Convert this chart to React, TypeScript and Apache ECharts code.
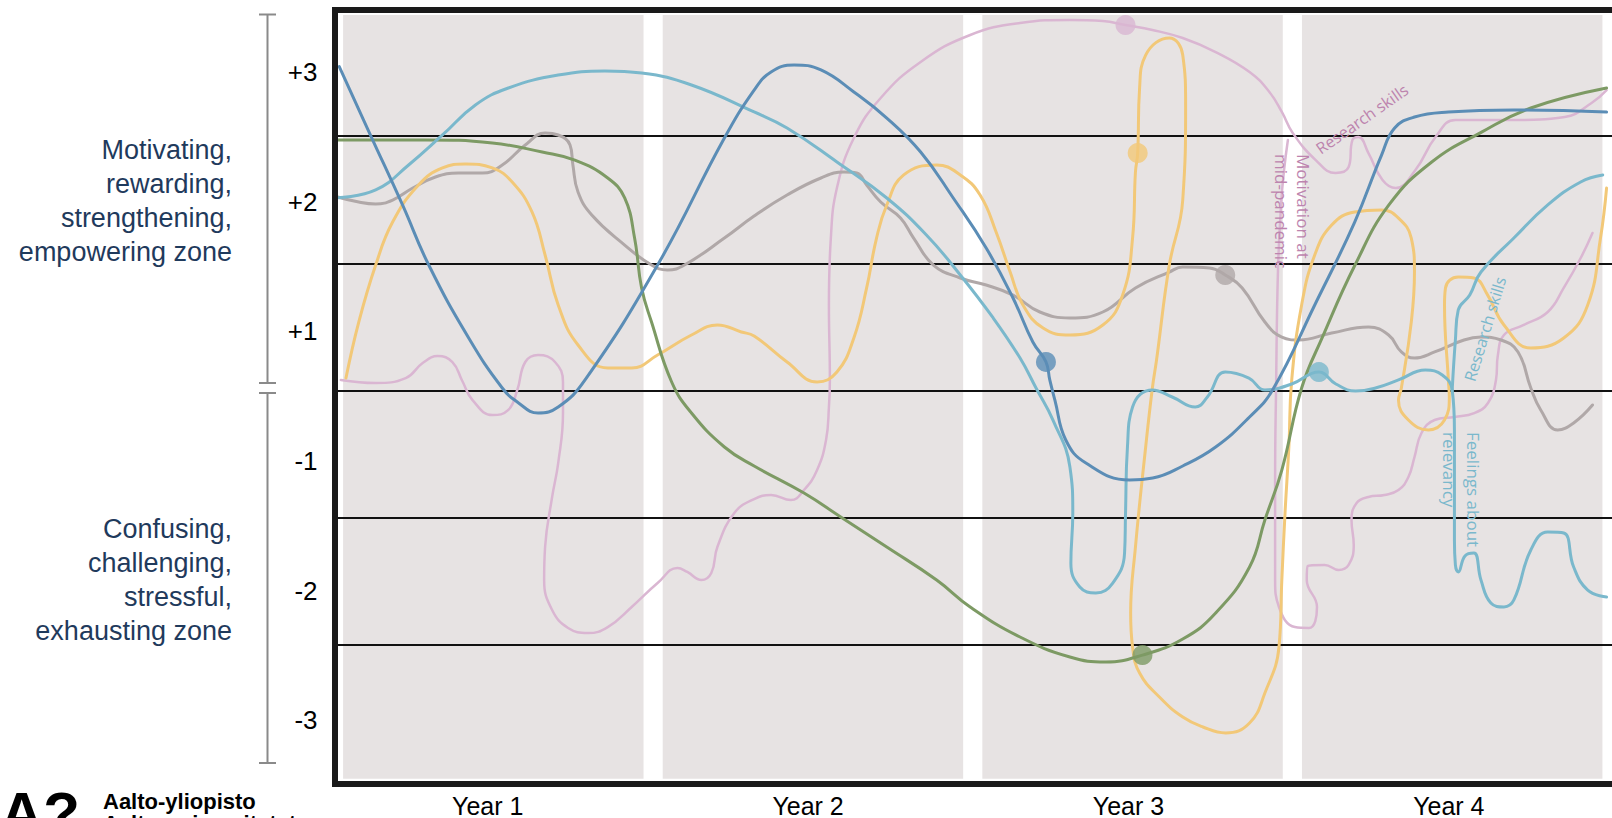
import React, { useEffect, useRef } from "react";
import * as echarts from "echarts";

// ---------- data (x: years since start, y: zone level; 0 = middle line) ----------
const yearLabels = ["Year 1", "Year 2", "Year 3", "Year 4"];
const levelLabels = ["-3", "-2", "-1", "+1", "+2", "+3"];
const zoneBoundaries = [2, 1, 0, -1, -2];
const yearPanels = [[0.03, 0.97], [1.03, 1.97], [2.03, 2.97], [3.03, 3.97]];

const blueLine = [
  [0.018, 2.545], [0.117, 2.0], [0.216, 1.458], [0.298, 0.986], [0.423, 0.413], [0.528, 0.02],
  [0.579, -0.098], [0.64, -0.177], [0.703, -0.13], [0.787, 0.083], [1.014, 0.986], [1.223, 1.984],
  [1.316, 2.361], [1.369, 2.503], [1.441, 2.558], [1.525, 2.519], [1.628, 2.346], [1.731, 2.141],
  [1.837, 1.874], [1.939, 1.513], [2.042, 1.12], [2.126, 0.727], [2.188, 0.381], [2.229, 0.225],
  [2.241, 0.083], [2.257, -0.075], [2.291, -0.389], [2.354, -0.57], [2.491, -0.703], [2.563, -0.688],
  [2.657, -0.593], [2.76, -0.444], [2.866, -0.208], [2.938, 0.004], [3.07, 0.672], [3.195, 1.324],
  [3.279, 1.85], [3.32, 2.063], [3.382, 2.149], [3.488, 2.188], [3.693, 2.204], [3.983, 2.188],
];

const tealLine = [
  [0.013, 1.515], [0.132, 1.576], [0.235, 1.772], [0.341, 2.008], [0.444, 2.244], [0.547, 2.377],
  [0.703, 2.479], [0.849, 2.511], [0.964, 2.495], [1.12, 2.401], [1.316, 2.189], [1.419, 2.063],
  [1.575, 1.796], [1.731, 1.513], [1.855, 1.222], [1.961, 0.908], [2.064, 0.57], [2.148, 0.255],
  [2.198, 0.02], [2.251, -0.232], [2.304, -0.601], [2.313, -0.963], [2.307, -1.356], [2.335, -1.544],
  [2.385, -1.591], [2.438, -1.513], [2.475, -1.277], [2.478, -0.963], [2.484, -0.444], [2.5, -0.13],
  [2.562, 0.004], [2.624, -0.051], [2.696, -0.13], [2.734, -0.051], [2.79, 0.145], [2.864, 0.098],
  [2.914, 0.004], [2.998, 0.051], [3.083, 0.145], [3.136, 0.051], [3.198, -0.004], [3.26, 0.02],
  [3.332, 0.083], [3.416, 0.161], [3.469, 0.122], [3.5, 0.004], [3.507, -0.31], [3.507, -0.703],
  [3.507, -1.175], [3.51, -1.371], [3.519, -1.426], [3.54, -1.3], [3.568, -1.277], [3.59, -1.489],
  [3.621, -1.67], [3.662, -1.701], [3.693, -1.646], [3.746, -1.253], [3.799, -1.112], [3.849, -1.12],
  [3.88, -1.387], [3.924, -1.568], [3.983, -1.623],
];

const tealResearchBranch = [
  [3.5, 0.004], [3.51, 0.397], [3.519, 0.633], [3.555, 0.75], [3.59, 0.931], [3.693, 1.198],
  [3.799, 1.458], [3.902, 1.639], [3.971, 1.694],
];

const greenLine = [
  [0.013, 1.969], [0.288, 1.969], [0.497, 1.945], [0.653, 1.874], [0.755, 1.81], [0.858, 1.67],
  [0.911, 1.513], [0.942, 1.198], [0.964, 0.806], [0.995, 0.538], [1.058, 0.067], [1.12, -0.177],
  [1.223, -0.444], [1.316, -0.593], [1.472, -0.806], [1.587, -0.994], [1.731, -1.23], [1.887, -1.489],
  [1.992, -1.701], [2.148, -1.937], [2.304, -2.094], [2.416, -2.133], [2.531, -2.079], [2.657, -1.953],
  [2.76, -1.749], [2.866, -1.387], [2.914, -1.017], [2.967, -0.625], [3.029, 0.02], [3.093, 0.413],
  [3.196, 0.986], [3.302, 1.458], [3.436, 1.796], [3.592, 2.031], [3.746, 2.22], [3.983, 2.377],
];

const yellowLine = [
  [0.039, 0.098], [0.079, 0.538], [0.132, 0.986], [0.185, 1.324], [0.266, 1.615], [0.341, 1.749],
  [0.413, 1.78], [0.497, 1.749], [0.559, 1.638], [0.621, 1.403], [0.662, 1.065], [0.703, 0.672],
  [0.765, 0.358], [0.858, 0.177], [0.933, 0.177], [1.014, 0.279], [1.12, 0.436], [1.201, 0.515],
  [1.276, 0.46], [1.316, 0.428], [1.419, 0.224], [1.513, 0.067], [1.575, 0.145], [1.628, 0.413],
  [1.668, 0.806], [1.699, 1.198], [1.731, 1.458], [1.784, 1.694], [1.887, 1.772], [1.961, 1.694],
  [2.023, 1.536], [2.073, 1.246], [2.117, 0.931], [2.157, 0.672], [2.22, 0.491], [2.304, 0.436],
  [2.407, 0.515], [2.469, 0.75], [2.5, 1.198], [2.509, 1.717], [2.516, 1.866], [2.522, 2.377],
  [2.541, 2.636], [2.615, 2.77], [2.657, 2.636], [2.666, 2.243], [2.657, 1.497], [2.615, 0.986],
  [2.575, 0.24], [2.562, 0.02], [2.541, -0.444], [2.509, -1.23], [2.494, -1.749], [2.5, -2.016],
  [2.522, -2.22], [2.584, -2.409], [2.657, -2.566], [2.72, -2.644], [2.791, -2.691], [2.866, -2.613],
  [2.914, -2.377], [2.958, -2.016], [2.967, -1.489], [2.977, -0.963], [2.989, -0.444], [2.998, 0.083],
  [3.029, 0.672], [3.07, 1.065], [3.123, 1.3], [3.195, 1.403], [3.279, 1.419], [3.332, 1.355],
  [3.372, 1.198], [3.382, 0.931], [3.372, 0.538], [3.341, 0.02], [3.332, -0.075], [3.363, -0.232],
  [3.426, -0.31], [3.476, -0.232], [3.491, -0.051], [3.488, 0.083], [3.476, 0.672], [3.479, 0.806],
  [3.519, 0.892], [3.568, 0.884], [3.611, 0.75], [3.662, 0.515], [3.746, 0.334], [3.849, 0.413],
  [3.924, 0.672], [3.964, 1.198], [3.983, 1.591],
];

const greyLine = [
  [0.013, 1.521], [0.079, 1.481], [0.132, 1.466], [0.185, 1.497], [0.248, 1.591], [0.319, 1.678],
  [0.391, 1.709], [0.466, 1.709], [0.528, 1.772], [0.6, 1.929], [0.662, 2.024], [0.703, 2.008],
  [0.74, 1.929], [0.749, 1.772], [0.765, 1.56], [0.808, 1.379], [0.911, 1.143], [0.995, 0.986],
  [1.045, 0.947], [1.098, 0.986], [1.223, 1.198], [1.316, 1.371], [1.419, 1.536], [1.525, 1.67],
  [1.597, 1.717], [1.637, 1.709], [1.668, 1.615], [1.712, 1.481], [1.774, 1.356], [1.815, 1.198],
  [1.877, 0.986], [1.961, 0.884], [2.042, 0.829], [2.126, 0.75], [2.21, 0.617], [2.304, 0.57],
  [2.407, 0.617], [2.509, 0.806], [2.615, 0.931], [2.657, 0.971], [2.741, 0.963], [2.79, 0.908],
  [2.843, 0.806], [2.914, 0.538], [2.967, 0.42], [3.02, 0.397], [3.123, 0.452], [3.238, 0.499],
  [3.301, 0.436], [3.341, 0.303], [3.382, 0.255], [3.445, 0.303], [3.537, 0.397], [3.59, 0.42],
  [3.653, 0.397], [3.706, 0.303], [3.746, 0.02], [3.777, -0.153], [3.83, -0.31], [3.88, -0.255],
  [3.939, -0.114],
];

const pinkLine = [
  [0.023, 0.083], [0.132, 0.059], [0.226, 0.098], [0.279, 0.216], [0.326, 0.271], [0.372, 0.224],
  [0.403, 0.075], [0.435, -0.075], [0.497, -0.193], [0.547, -0.153], [0.575, 0.004], [0.6, 0.224],
  [0.64, 0.279], [0.693, 0.224], [0.718, 0.067], [0.718, -0.177], [0.703, -0.57], [0.684, -0.837],
  [0.662, -1.23], [0.659, -1.489], [0.684, -1.725], [0.734, -1.866], [0.796, -1.906], [0.858, -1.859],
  [0.933, -1.701], [1.014, -1.513], [1.076, -1.395], [1.107, -1.426], [1.151, -1.489], [1.182, -1.434],
  [1.201, -1.23], [1.254, -0.963], [1.316, -0.853], [1.369, -0.821], [1.431, -0.861], [1.472, -0.782],
  [1.513, -0.625], [1.541, -0.389], [1.55, -0.13], [1.553, 0.083], [1.55, 0.672], [1.556, 1.198],
  [1.575, 1.591], [1.628, 1.984], [1.712, 2.299], [1.837, 2.582], [1.992, 2.794], [2.148, 2.888],
  [2.304, 2.912], [2.407, 2.904], [2.478, 2.872], [2.562, 2.833], [2.657, 2.77], [2.76, 2.66],
  [2.866, 2.503], [2.928, 2.346], [2.967, 2.189], [3.001, 2.024], [3.073, 1.811], [3.135, 1.709],
  [3.176, 1.756], [3.188, 1.969], [3.207, 1.992], [3.238, 1.866], [3.282, 1.654], [3.323, 1.591],
  [3.385, 1.733], [3.448, 1.992], [3.51, 2.126], [3.697, 2.126], [3.852, 2.149], [3.936, 2.259],
  [3.983, 2.361],
];

const pinkPandemicBranch = [
  [2.986, 1.969], [2.974, 1.733], [2.965, 1.474], [2.955, 0.947], [2.949, 0.02], [2.946, -0.703],
  [2.946, -1.489], [2.958, -1.701], [3.008, -1.859], [3.052, -1.866], [3.077, -1.701], [3.045, -1.489],
  [3.048, -1.379], [3.101, -1.371], [3.145, -1.411], [3.176, -1.371], [3.192, -1.214], [3.185, -1.017],
  [3.201, -0.884], [3.238, -0.837], [3.288, -0.821], [3.332, -0.782], [3.363, -0.68], [3.382, -0.523],
  [3.404, -0.334], [3.445, -0.232], [3.507, -0.208], [3.569, -0.177], [3.612, -0.098], [3.637, 0.083],
  [3.643, 0.279], [3.662, 0.436], [3.724, 0.515], [3.799, 0.617], [3.849, 0.806], [3.902, 1.041],
  [3.939, 1.238],
];

// highlighted moment on each line
const blueDot = [2.229, 0.225];
const tealDot = [3.083, 0.145];
const greenDot = [2.531, -2.079];
const yellowDot = [2.516, 1.866];
const greyDot = [2.79, 0.908];
const pinkDot = [2.478, 2.872];

const C = {
  blue: "#5b8db6",
  teal: "#7ab8cc",
  green: "#7d9a64",
  yellow: "#f2c878",
  grey: "#b0a8a8",
  pink: "#dab6d2",
  pinkText: "#bd84ae",
  navy: "#1f3a5c",
  panel: "#e7e3e3",
};

const ARIAL = "'Liberation Sans', Arial, sans-serif";
const NOTE = "'Open Sans', 'Noto Sans', sans-serif";

function lineSeries(name: string, data: number[][], color: string, width = 3) {
  return {
    name,
    type: "line",
    xAxisIndex: 0,
    yAxisIndex: 0,
    data,
    smooth: 0.45,
    symbol: "none",
    z: 2,
    silent: true,
    lineStyle: { color, width, cap: "round", join: "round" },
  };
}

export default function App() {
  const ref = useRef<HTMLDivElement>(null);

  useEffect(() => {
    if (!ref.current) return;
    const chart = echarts.init(ref.current, undefined, { renderer: "svg" });

    const bracket = "#8a8a8a";
    const option: any = {
      animation: false,
      backgroundColor: "#ffffff",
      grid: [
        { left: 333.5, top: 8.75, width: 1284, height: 776.25 },
        { left: 327.5, top: 7.1, width: 1284, height: 779 },
      ],
      xAxis: [
        { gridIndex: 0, type: "value", min: 0, max: 4, show: false },
        {
          gridIndex: 1,
          type: "value",
          min: 0,
          max: 4,
          interval: 0.5,
          axisLine: { show: false },
          axisTick: { show: false },
          splitLine: { show: false },
          axisLabel: {
            margin: 8,
            fontSize: 25,
            color: "#000",
            fontFamily: ARIAL,
            formatter: (v: number) => {
              const k = Math.round(v * 2);
              return k % 2 === 1 ? yearLabels[(k - 1) / 2] : "";
            },
          },
        },
      ],
      yAxis: [
        { gridIndex: 0, type: "value", min: -3.1, max: 3, show: false },
        {
          gridIndex: 1,
          type: "value",
          min: -0.5,
          max: 5.5,
          interval: 0.5,
          axisLine: { show: false },
          axisTick: { show: false },
          splitLine: { show: false },
          axisLabel: {
            margin: 10,
            fontSize: 26,
            color: "#000",
            fontFamily: ARIAL,
            formatter: (v: number) => {
              const k = Math.round(v * 2);
              return k % 2 === 0 ? levelLabels[k / 2] ?? "" : "";
            },
          },
        },
      ],
      series: [
        {
          name: "frame",
          type: "line",
          xAxisIndex: 0,
          yAxisIndex: 0,
          data: [[0, 0]],
          symbol: "none",
          silent: true,
          lineStyle: { width: 0, opacity: 0 },
          markArea: {
            silent: true,
            z: 0,
            itemStyle: { color: C.panel },
            data: yearPanels.map(([a, b]) => [
              { xAxis: a, yAxis: -3.05 },
              { xAxis: b, yAxis: 2.95 },
            ]),
          },
          markLine: {
            silent: true,
            z: 1,
            symbol: ["none", "none"],
            label: { show: false },
            lineStyle: { color: "#111", width: 2, type: "solid" },
            data: zoneBoundaries.map((v) => ({ yAxis: v })),
          },
        },
        lineSeries("Motivation at mid-pandemic", pinkPandemicBranch, C.pink, 2.5),
        lineSeries("Research skills (pink)", pinkLine, C.pink, 2.5),
        lineSeries("Grey", greyLine, C.grey),
        lineSeries("Yellow", yellowLine, C.yellow),
        lineSeries("Green", greenLine, C.green),
        lineSeries("Research skills (teal)", tealResearchBranch, C.teal),
        lineSeries("Feelings about relevancy", tealLine, C.teal),
        lineSeries("Blue", blueLine, C.blue),
        {
          name: "moments",
          type: "scatter",
          xAxisIndex: 0,
          yAxisIndex: 0,
          symbolSize: 20,
          z: 3,
          silent: true,
          data: [
            { value: blueDot, itemStyle: { color: C.blue } },
            { value: tealDot, itemStyle: { color: C.teal } },
            { value: greenDot, itemStyle: { color: C.green } },
            { value: yellowDot, itemStyle: { color: C.yellow } },
            { value: greyDot, itemStyle: { color: C.grey } },
            { value: pinkDot, itemStyle: { color: C.pink } },
          ],
        },
      ],
      graphic: [
        {
          type: "rect",
          z: 100,
          silent: true,
          shape: { x: 335, y: 10, width: 1300, height: 774 },
          style: { fill: "none", stroke: "#1a1a1a", lineWidth: 6 },
        },
        // bracket on the left
        { type: "line", z: 50, shape: { x1: 267.5, y1: 14.5, x2: 267.5, y2: 383 }, style: { stroke: bracket, lineWidth: 2 } },
        { type: "line", z: 50, shape: { x1: 259, y1: 14.5, x2: 276, y2: 14.5 }, style: { stroke: bracket, lineWidth: 2 } },
        { type: "line", z: 50, shape: { x1: 259, y1: 383, x2: 276, y2: 383 }, style: { stroke: bracket, lineWidth: 2 } },
        { type: "line", z: 50, shape: { x1: 259, y1: 393, x2: 276, y2: 393 }, style: { stroke: bracket, lineWidth: 2 } },
        { type: "line", z: 50, shape: { x1: 267.5, y1: 393, x2: 267.5, y2: 763 }, style: { stroke: bracket, lineWidth: 2 } },
        { type: "line", z: 50, shape: { x1: 259, y1: 763, x2: 276, y2: 763 }, style: { stroke: bracket, lineWidth: 2 } },
        {
          type: "text",
          z: 50,
          x: 232,
          y: 133,
          style: {
            text: "Motivating,\nrewarding,\nstrengthening,\nempowering zone",
            fill: C.navy,
            font: `27px ${ARIAL}`,
            lineHeight: 34,
            align: "right",
            verticalAlign: "top",
          },
        },
        {
          type: "text",
          z: 50,
          x: 232,
          y: 512,
          style: {
            text: "Confusing,\nchallenging,\nstressful,\nexhausting zone",
            fill: C.navy,
            font: `27px ${ARIAL}`,
            lineHeight: 34,
            align: "right",
            verticalAlign: "top",
          },
        },
        // annotations
        {
          type: "text",
          z: 60,
          x: 1362,
          y: 119,
          rotation: (35 * Math.PI) / 180,
          style: { text: "Research skills", fill: C.pinkText, font: `16px ${NOTE}`, align: "center", verticalAlign: "middle" },
        },
        {
          type: "text",
          z: 60,
          x: 1292,
          y: 154,
          rotation: -Math.PI / 2,
          style: {
            text: "Motivation at\nmid-pandemic",
            fill: C.pinkText,
            font: `17px ${NOTE}`,
            lineHeight: 22,
            align: "left",
            verticalAlign: "middle",
          },
        },
        {
          type: "text",
          z: 60,
          x: 1485,
          y: 329,
          rotation: (73 * Math.PI) / 180,
          style: { text: "Research skills", fill: C.teal, font: `16px ${NOTE}`, align: "center", verticalAlign: "middle" },
        },
        {
          type: "text",
          z: 60,
          x: 1461,
          y: 432,
          rotation: -Math.PI / 2,
          style: {
            text: "Feelings about\nrelevancy",
            fill: C.teal,
            font: `17px ${NOTE}`,
            lineHeight: 24,
            align: "left",
            verticalAlign: "middle",
          },
        },
        // logo
        {
          type: "text",
          z: 60,
          x: 0,
          y: 783,
          style: { text: "A?", fill: "#000", font: `900 60px ${ARIAL}`, align: "left", verticalAlign: "top" },
        },
        {
          type: "text",
          z: 60,
          x: 103,
          y: 790,
          style: { text: "Aalto-yliopisto", fill: "#000", font: `bold 22px ${ARIAL}`, align: "left", verticalAlign: "top" },
        },
        {
          type: "text",
          z: 60,
          x: 103,
          y: 812,
          style: { text: "Aalto-universitetet", fill: "#000", font: `bold 22px ${ARIAL}`, align: "left", verticalAlign: "top" },
        },
      ],
    };

    chart.setOption(option);
    return () => chart.dispose();
  }, []);

  return (
    <div
      ref={ref}
      style={{ position: "absolute", left: 0, top: 0, width: 1612, height: 818 }}
    />
  );
}
